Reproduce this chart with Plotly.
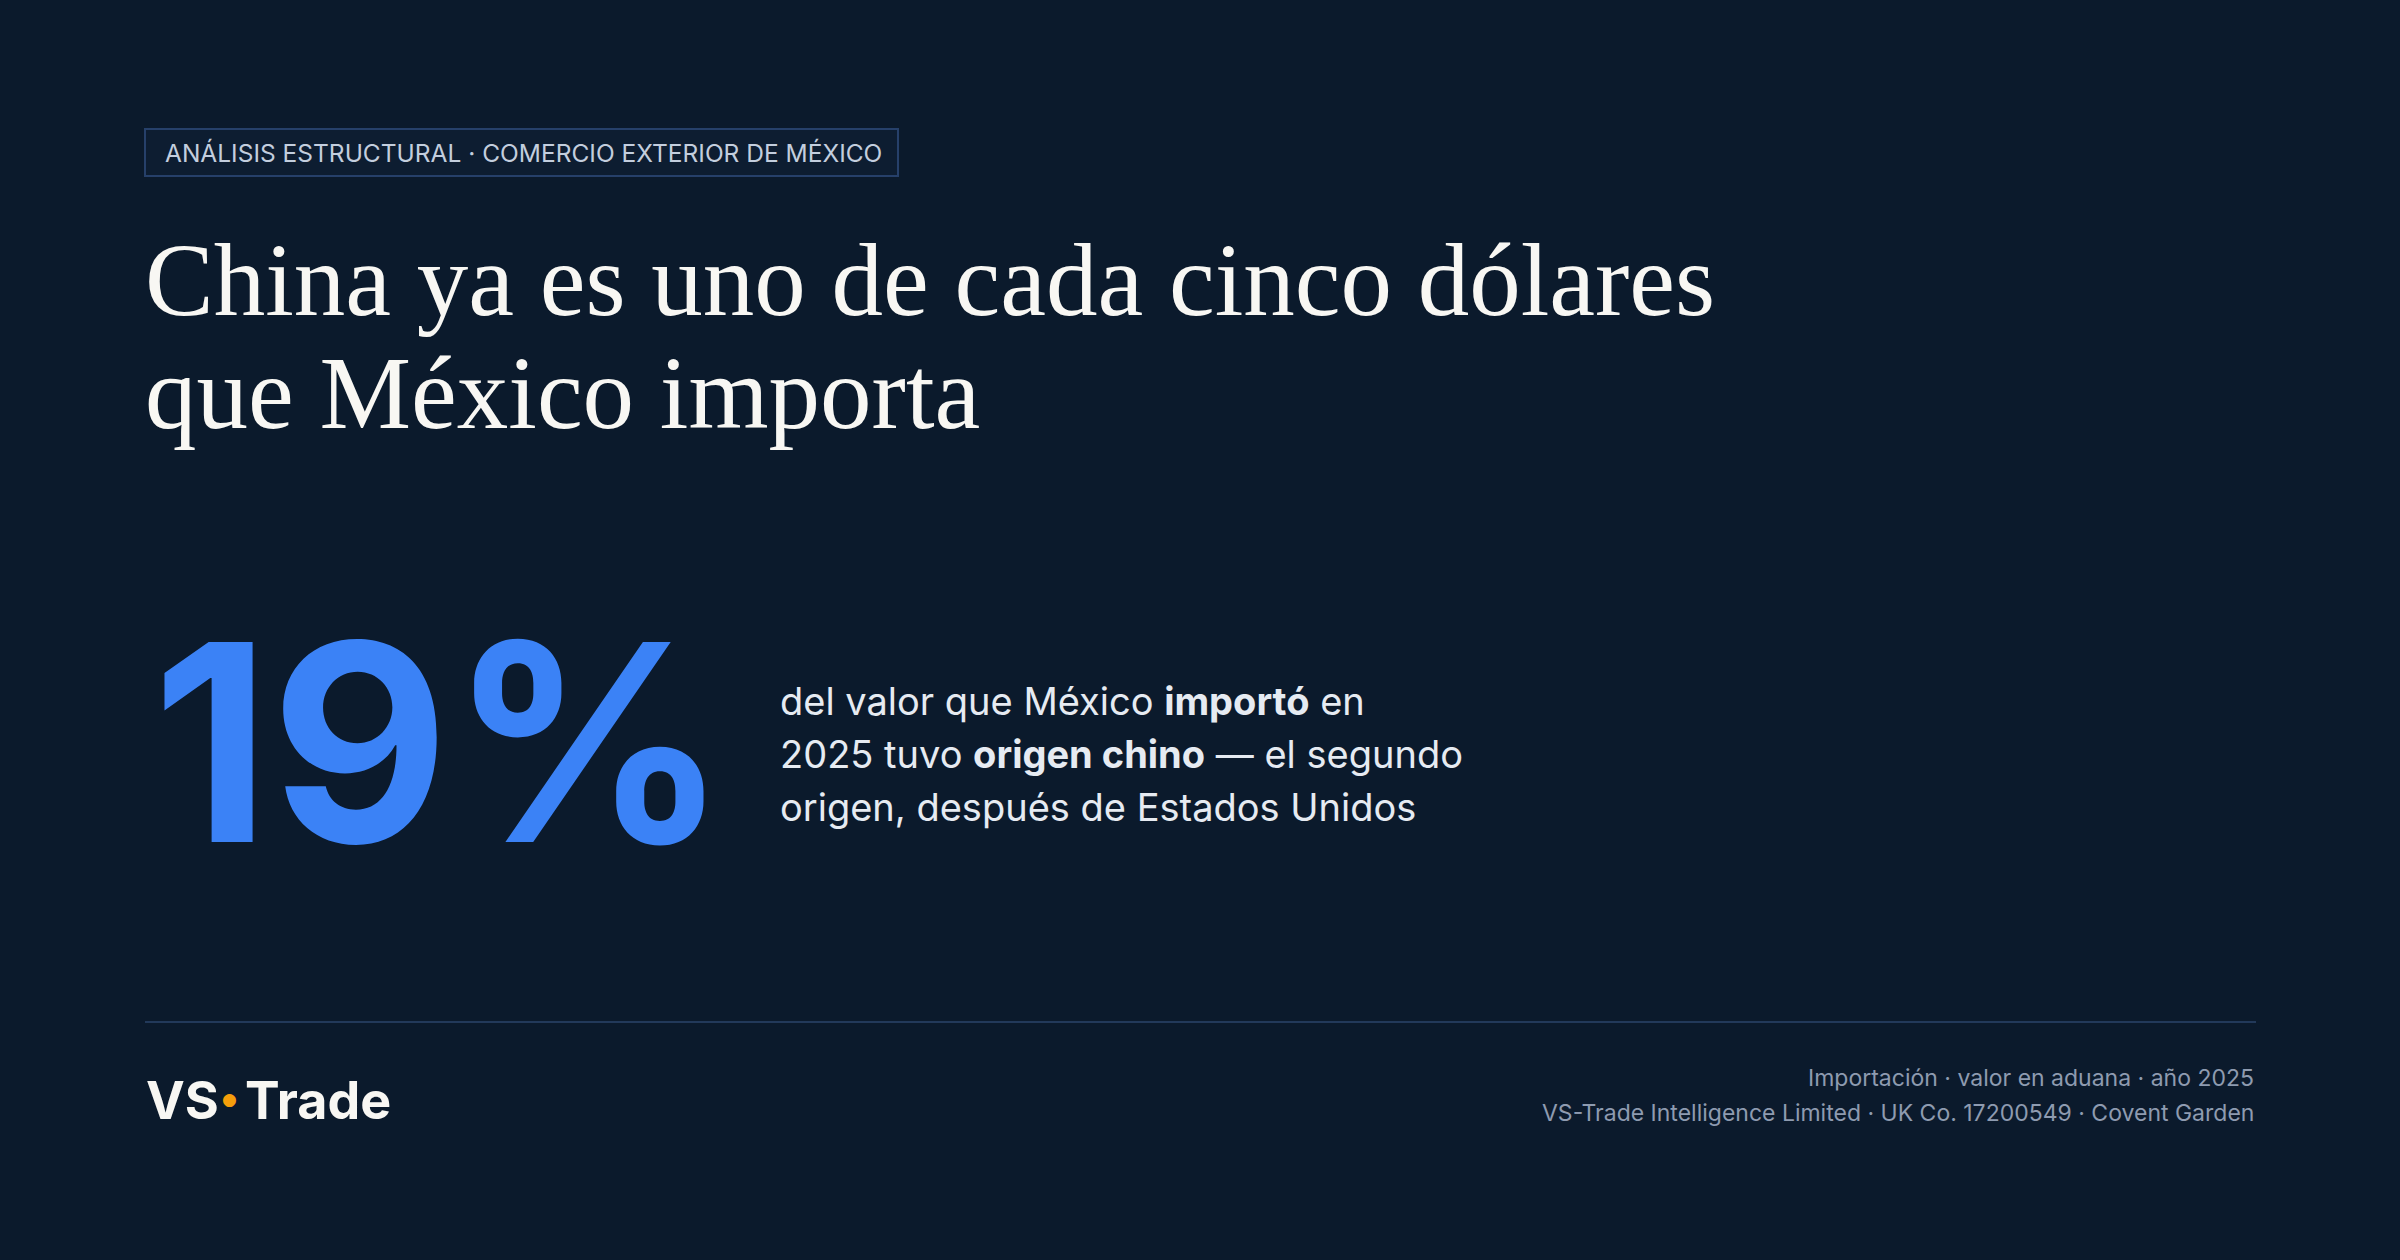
import plotly.graph_objects as go

W, H = 2400, 1260
tag_text = "ANÁLISIS ESTRUCTURAL · COMERCIO EXTERIOR DE MÉXICO"
title_lines = ["China ya es uno de cada cinco dólares", "que México importa"]
big_value = "19%"
desc_lines = ["del valor que México <b>importó</b> en",
              "2025 tuvo <b>origen chino</b> — el segundo",
              "origen, después de Estados Unidos"]
footer_lines = ["Importación · valor en aduana · año 2025",
                "VS-Trade Intelligence Limited · UK Co. 17200549 · Covent Garden"]

BG = "#0b1a2c"
def px(x): return x / W
def py(y): return 1 - y / H

fig = go.Figure()
fig.update_layout(width=W, height=H, margin=dict(l=0, r=0, t=0, b=0),
                  paper_bgcolor=BG, plot_bgcolor=BG, showlegend=False,
                  xaxis=dict(visible=False, range=[0, 1]),
                  yaxis=dict(visible=False, range=[0, 1]))
shapes = [
    dict(type="rect", xref="paper", yref="paper", x0=px(145), x1=px(898), y0=py(129), y1=py(176),
         line=dict(color="#26406a", width=2), fillcolor="#0d1d31", layer="below"),
    dict(type="line", xref="paper", yref="paper", x0=px(145), x1=px(2256), y0=py(1022), y1=py(1022),
         line=dict(color="#22395a", width=2)),
]
fig.update_layout(shapes=shapes)
ann = []
def t(x, y, text, size, color, family="Inter", xanchor="left", yanchor="middle"):
    ann.append(dict(x=px(x), y=py(y), xref="paper", yref="paper", text=text, showarrow=False,
                    xanchor=xanchor, yanchor=yanchor, align=xanchor,
                    font=dict(size=size, color=color, family=family)))
t(163, 153, tag_text, 24.5, "#c3cede", "Inter")
t(143, 280, title_lines[0], 103, "#f8f7f3", "Liberation Serif")
t(143, 393, title_lines[1], 103, "#f8f7f3", "Liberation Serif")
t(150, 742, "<b>" + big_value + "</b>", 275, "#3b82f6", "Inter")
for i, l in enumerate(desc_lines):
    t(778, 701 + i * 53, l, 38, "#e6ebf2", "Inter")
t(144, 1100, "<b>VS</b>", 52, "#f8f7f3", "Inter")
t(243, 1100, "<b>Trade</b>", 52, "#f8f7f3", "Inter")
ann.append(dict(x=px(220), y=py(1111), xref="paper", yref="paper", text="●", showarrow=False,
                font=dict(size=17, color="#f59e0b", family="DejaVu Sans")))
t(2256, 1078, footer_lines[0], 23, "#8e9bb0", "Inter", xanchor="right")
t(2256, 1113, footer_lines[1], 23, "#8e9bb0", "Inter", xanchor="right")
fig.update_layout(annotations=ann)
fig.write_html("out.html", config={"displayModeBar": False},
               post_script="document.body.style.margin='0';document.body.style.background='#0b1a2c';")
